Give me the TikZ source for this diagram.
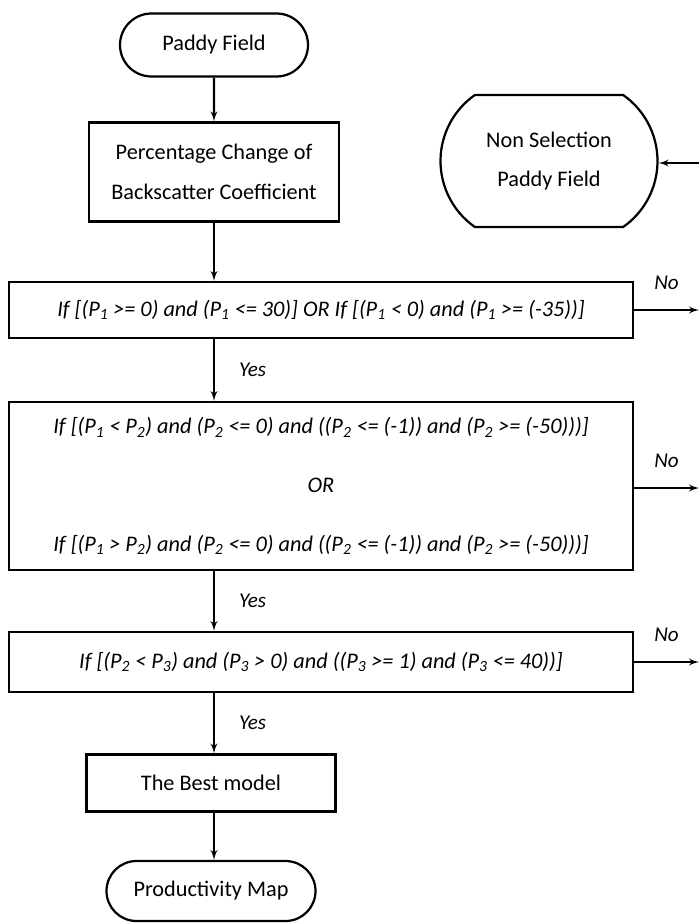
\documentclass[tikz,border=0pt]{standalone}
\usepackage{fontspec}
\setmainfont{Carlito}
\usetikzlibrary{arrows,shapes.misc}

\begin{document}
\begin{tikzpicture}[x=0.03cm, y=-0.03cm, >=latex', line width=1.9pt,
  font=\fontsize{19}{34}\selectfont,
  box/.style={draw, rectangle, align=center, inner sep=0pt},
  term/.style={draw, rounded rectangle, align=center, inner sep=0pt},
  cond/.style={box, minimum width=18.72cm, font=\fontsize{19}{22}\selectfont\itshape},
  lbl/.style={font=\fontsize{18}{20}\selectfont\itshape}]
\useasboundingbox (0,0) rectangle (699,924);

\node [term, minimum width=5.64cm, minimum height=1.89cm] (paddy) at (214,45) {Paddy Field};
\node [box, minimum width=7.5cm, minimum height=2.97cm] (pct) at (214,172) {Percentage Change of\\Backscatter Coefficient};
\node [term, rounded rectangle arc length=110, minimum width=6.51cm, minimum height=3.96cm] (nonsel) at (549,161) {Non Selection\\Paddy Field};
\node [cond, minimum height=1.68cm] (if1) at (321,310) {If [(P\textsubscript{1} >= 0) and (P\textsubscript{1} <= 30)] OR If [(P\textsubscript{1} < 0) and (P\textsubscript{1} >= (-35))]};
\node [cond, minimum height=5.04cm] (if2) at (321,486) {If [(P\textsubscript{1} < P\textsubscript{2}) and (P\textsubscript{2} <= 0) and ((P\textsubscript{2} <= (-1)) and (P\textsubscript{2} >= (-50)))]\\[28pt]OR\\[28pt]If [(P\textsubscript{1} > P\textsubscript{2}) and (P\textsubscript{2} <= 0) and ((P\textsubscript{2} <= (-1)) and (P\textsubscript{2} >= (-50)))]};
\node [cond, minimum height=1.8cm] (if3) at (321,662) {If [(P\textsubscript{2} < P\textsubscript{3}) and (P\textsubscript{3} > 0) and ((P\textsubscript{3} >= 1) and (P\textsubscript{3} <= 40))]};
\node [box, minimum width=7.47cm, minimum height=1.71cm] (best) at (211,783) {The Best model};
\node [term, minimum width=6.27cm, minimum height=1.8cm] (pmap) at (211,891) {Productivity Map};

\coordinate (e0) at (699,163);
\coordinate (e1) at (699,310);
\coordinate (e2) at (699,488);
\coordinate (e3) at (699,662);

% main line
\draw [->] (paddy) -- (pct);
\draw [->] (pct) -- (pct |- if1.north);
\draw [->] (if1.south -| pct) -- node [lbl, right=0.6cm] {Yes} (if2.north -| pct);
\draw [->] (if2.south -| pct) -- node [lbl, right=0.6cm] {Yes} (if3.north -| pct);
\draw [->] (if3.south -| pct) -- node [lbl, right=0.6cm] {Yes} (best.north -| pct);
\draw [->] (best.south -| pct) -- (pmap.north -| pct);

% rejected branches
\draw [->] (e0) -- (nonsel.east |- e0);
\draw [->] (if1.east) -- node [lbl, above=0.45cm] {No} (e1);
\draw [->] (if2.east |- e2) -- node [lbl, above=0.45cm] {No} (e2);
\draw [->] (if3.east) -- node [lbl, above=0.45cm] {No} (e3);
\end{tikzpicture}
\end{document}
